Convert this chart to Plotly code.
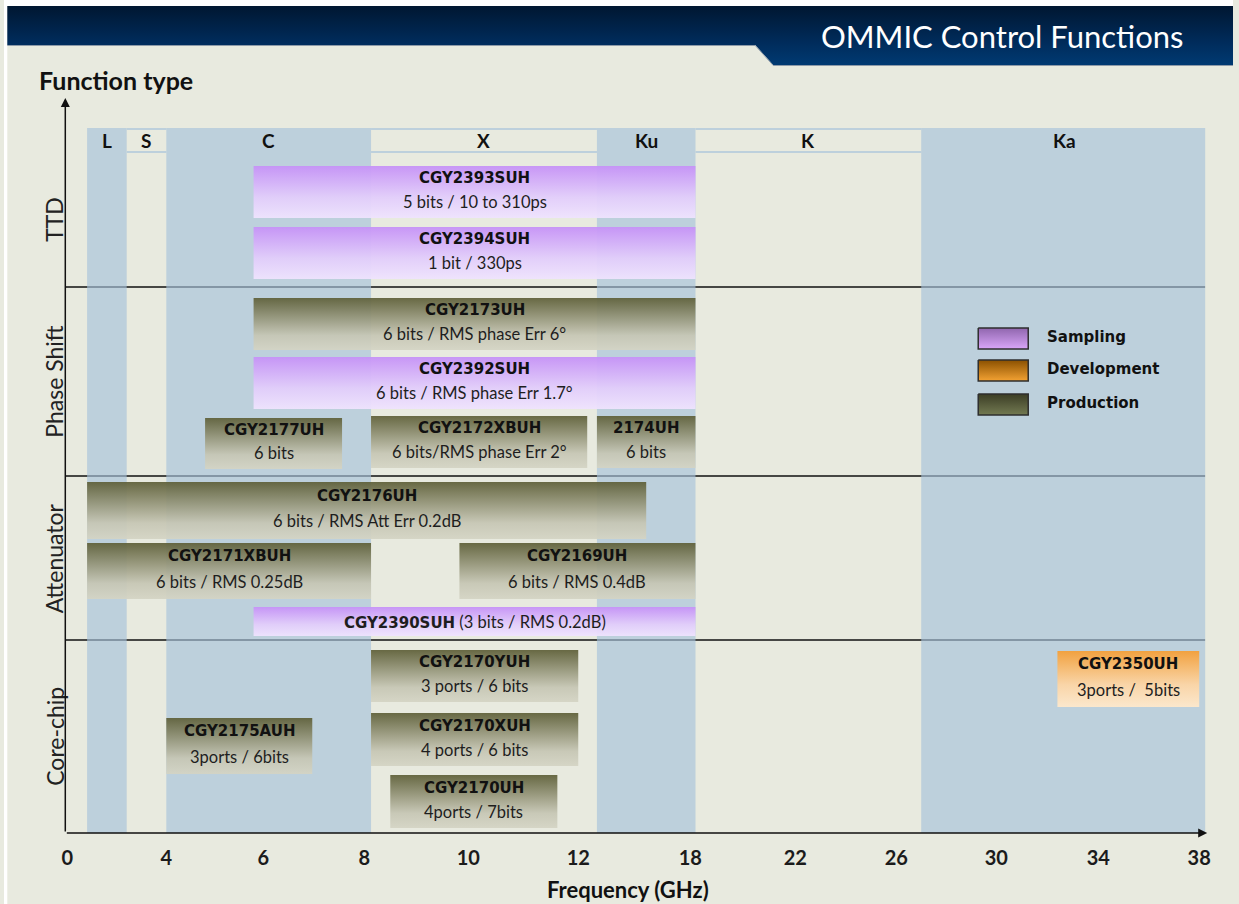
import numpy as np
import plotly.graph_objects as go

W, H = 1239, 904

# ---------------- data ----------------
TICK_GHZ = [0, 4, 6, 8, 10, 12, 18, 22, 26, 30, 34, 38]
TICK_TEXT = [str(t) for t in TICK_GHZ]
# the original frequency axis is not linear: warped position of every tick
TICK_POS = [2, 101, 198, 299, 403, 513, 625, 730, 831, 931, 1033, 1134]

BANDS = ["L", "S", "C", "X", "Ku", "K", "Ka"]
BAND_START = [0.8, 2.4, 4.0, 8.13, 13.0, 18.2, 27.0]
BAND_STOP = [2.4, 4.0, 8.13, 13.0, 18.2, 27.0, 38.3]
BAND_SHADED = [True, False, True, False, True, False, True]

GROUPS = ["TTD", "Phase Shift", "Attenuator", "Core-chip"]
GROUP_TOP = [52, 187, 376, 540]
GROUP_BOTTOM = [187, 376, 540, 733]

PARTS = ["CGY2393SUH", "CGY2394SUH", "CGY2173UH", "CGY2392SUH", "CGY2177UH",
         "CGY2172XBUH", "2174UH", "CGY2176UH", "CGY2171XBUH", "CGY2169UH",
         "CGY2390SUH", "CGY2170YUH", "CGY2170XUH", "CGY2170UH", "CGY2175AUH",
         "CGY2350UH"]
SUBTEXT = ["5 bits / 10 to 310ps", "1 bit / 330ps", "6 bits / RMS phase Err 6°",
           "6 bits / RMS phase Err 1.7°", "6 bits", "6 bits/RMS phase Err 2°",
           "6 bits", "6 bits / RMS Att Err 0.2dB", "6 bits / RMS 0.25dB",
           "6 bits / RMS 0.4dB", "(3 bits / RMS 0.2dB)", "3 ports / 6 bits",
           "4 ports / 6 bits", "4ports / 7bits", "3ports / 6bits", "3ports /  5bits"]
STATUS = ["Sampling", "Sampling", "Production", "Sampling", "Production",
          "Production", "Production", "Production", "Production", "Production",
          "Sampling", "Production", "Production", "Production", "Production",
          "Development"]
F_START = [5.8, 5.8, 5.8, 5.8, 4.8, 8.13, 13.0, 0.8, 0.8, 9.83, 5.8, 8.13, 8.13, 8.5, 4.0, 32.4]
F_STOP = [18.2, 18.2, 18.2, 18.2, 7.56, 12.48, 18.2, 15.64, 8.13, 18.2, 18.2, 12.0, 12.0, 11.62, 6.97, 38.0]
ROW_TOP = [66, 127, 198, 257, 318, 316, 316, 382, 443, 443, 507, 550, 613, 675, 618, 551]
ROW_BOTTOM = [118, 179, 250, 309, 369, 368, 368, 439, 499, 499, 536, 602, 666, 728, 674, 607]

LEGEND = ["Sampling", "Development", "Production"]

# ---------------- styles ----------------
BG = "#e8eadf"
BAND_FILL = "rgba(166,194,218,0.65)"
BAND_LINE = "#bdd0dc"
GRAD = {
    "Sampling": [[0, "rgba(198,146,247,0.95)"], [0.6, "rgba(226,205,251,0.95)"], [1, "rgba(239,227,254,0.95)"]],
    "Production": [[0, "rgba(94,95,56,0.93)"], [0.72, "rgba(198,198,180,0.93)"], [1, "rgba(212,212,196,0.93)"]],
    "Development": [[0, "rgba(243,160,59,0.97)"], [0.6, "rgba(251,213,166,0.97)"], [1, "rgba(253,232,204,0.97)"]],
}
SWATCH = {
    "Sampling": [[0, "#9066ae"], [1, "#d9a6f9"]],
    "Development": [[0, "#8a5000"], [1, "#f3a233"]],
    "Production": [[0, "#3b3d25"], [1, "#737a52"]],
}
SUB_FONT = "Lato"
NAME_FONT = "DejaVu Sans"

# horizontal page placement correction (page is shown slightly compressed)
SX, OX = 0.992, 3.7


def pgx(v):
    return (v - OX) / SX


def fx(g):
    g = np.asarray(g, dtype=float)
    u = np.interp(g, TICK_GHZ, TICK_POS)
    slope = (TICK_POS[-1] - TICK_POS[-2]) / (TICK_GHZ[-1] - TICK_GHZ[-2])
    return np.where(g > TICK_GHZ[-1], TICK_POS[-1] + (g - TICK_GHZ[-1]) * slope, u)


X_LEFT, X_RIGHT, Y_TOP, Y_BOT = 65, 1205, 100, 833
XSPAN = X_RIGHT - X_LEFT
YSPAN = Y_BOT - Y_TOP

fig = go.Figure()
shapes = []
ann = []

# separators between function groups (drawn first: under the bands)
for gb in GROUP_BOTTOM[:-1]:
    shapes.append(dict(type="line", xref="x", yref="y", x0=0, x1=XSPAN, y0=gb, y1=gb,
                       line=dict(color="#111111", width=1.3), layer="below"))

# frequency bands
for name, a, b, sh in zip(BANDS, BAND_START, BAND_STOP, BAND_SHADED):
    xa, xb = float(fx(a)), float(fx(b))
    if sh:
        shapes.append(dict(type="rect", xref="x", yref="y", x0=xa, x1=xb, y0=28, y1=YSPAN,
                           fillcolor=BAND_FILL, line=dict(width=0), layer="below"))
    else:
        for yy in (29, 52):
            shapes.append(dict(type="line", xref="x", yref="y", x0=xa, x1=xb, y0=yy, y1=yy,
                               line=dict(color=BAND_LINE, width=2), layer="below"))
    ann.append(dict(x=(xa + xb) / 2, y=41, xref="x", yref="y", text=name, showarrow=False,
                    font=dict(family="Lato", size=19, color="#111111", weight="bold")))

# product bars
for p, s, st, a, b, t, bt in zip(PARTS, SUBTEXT, STATUS, F_START, F_STOP, ROW_TOP, ROW_BOTTOM):
    xa, xb = float(fx(a)), float(fx(b))
    fig.add_trace(go.Scatter(
        x=[xa, xb, xb, xa, xa], y=[t, t, bt, bt, t], mode="lines", fill="toself",
        line=dict(width=0, color="rgba(0,0,0,0)"),
        fillgradient=dict(type="vertical", colorscale=GRAD[st], start=t, stop=bt),
        hoverinfo="skip", showlegend=False, xaxis="x", yaxis="y"))
    xc = (xa + xb) / 2
    h = bt - t
    if h < 40:
        ann.append(dict(x=xc, y=(t + bt) / 2, xref="x", yref="y", showarrow=False,
                        text=f'<span style="font-family:{NAME_FONT};font-weight:bold;font-size:15px">{p}</span> {s}',
                        font=dict(family=SUB_FONT, size=16.5, color="#1e1e1e")))
    else:
        ann.append(dict(x=xc, y=t + 0.24 * h, xref="x", yref="y", text=p, showarrow=False,
                        font=dict(family=NAME_FONT, size=15, color="#111111", weight="bold")))
        ann.append(dict(x=xc, y=t + 0.69 * h, xref="x", yref="y", text=s, showarrow=False,
                        font=dict(family=SUB_FONT, size=16.5, color="#1e1e1e")))

# group labels (rotated)
for g, a, b in zip(GROUPS, GROUP_TOP, GROUP_BOTTOM):
    ann.append(dict(x=pgx(38) / W, y=(a + b) / 2, xref="paper", yref="y", text=g, showarrow=False,
                    textangle=-90, font=dict(family="Lato", size=23, color="#222222")))

# ---------------- decoration in page coordinates (x2/y2) ----------------
hx = [pgx(7), W, W, pgx(773), pgx(755), pgx(7), pgx(7)]
hy = [6, 6, 65, 65, 45, 45, 6]
fig.add_trace(go.Scatter(x=hx, y=hy, mode="lines", fill="toself", line=dict(width=0),
                         fillgradient=dict(type="vertical", start=6, stop=65,
                                           colorscale=[[0, "#001731"], [0.6, "#002b5a"], [1, "#003a72"]]),
                         hoverinfo="skip", showlegend=False, xaxis="x2", yaxis="y2"))
fig.add_trace(go.Scatter(x=[pgx(7), pgx(755), pgx(773), W], y=[45.5, 45.5, 65.5, 65.5], mode="lines",
                         line=dict(color="#8d9aa8", width=1), hoverinfo="skip",
                         showlegend=False, xaxis="x2", yaxis="y2"))

# legend
LEG_Y = [328, 360, 394]
for lab, y0 in zip(LEGEND, LEG_Y):
    y1 = y0 + 21
    xa, xb = pgx(978), pgx(1028)
    fig.add_trace(go.Scatter(x=[xa, xb, xb, xa, xa], y=[y0, y0, y1, y1, y0], mode="lines",
                             fill="toself", line=dict(color="#2e2e2e", width=1.5),
                             fillgradient=dict(type="vertical", start=y0, stop=y1, colorscale=SWATCH[lab]),
                             hoverinfo="skip", showlegend=False, xaxis="x2", yaxis="y2"))
    ann.append(dict(x=pgx(1045), y=y0 + 9, xref="x2", yref="y2", text=lab, showarrow=False,
                    xanchor="left", font=dict(family="DejaVu Sans", size=15, color="#111111", weight="bold")))

# axes arrows
ann.append(dict(x=pgx(X_LEFT), y=Y_TOP - 2, ax=pgx(X_LEFT), ay=Y_BOT, xref="x2", yref="y2",
                axref="x2", ayref="y2", text="", showarrow=True, arrowhead=2, arrowsize=1.2,
                arrowwidth=1.5, arrowcolor="#111111"))
ann.append(dict(x=pgx(X_RIGHT + 2), y=Y_BOT, ax=pgx(X_LEFT), ay=Y_BOT, xref="x2", yref="y2",
                axref="x2", ayref="y2", text="", showarrow=True, arrowhead=2, arrowsize=1.2,
                arrowwidth=1.5, arrowcolor="#111111"))

# texts
ann.append(dict(x=pgx(1002), y=36, xref="x2", yref="y2", text="OMMIC Control Functions", showarrow=False,
                font=dict(family="Lato", size=31, color="#ffffff")))
ann.append(dict(x=pgx(37), y=80, xref="x2", yref="y2", text="Function type", showarrow=False, xanchor="left",
                font=dict(family="Lato", size=25, color="#111111", weight="bold")))
ann.append(dict(x=pgx(628), y=889, xref="x2", yref="y2", text="Frequency (GHz)", showarrow=False,
                font=dict(family="Lato", size=22, color="#111111", weight="bold")))

# white page edges
shapes.append(dict(type="rect", xref="paper", yref="paper", x0=0, x1=pgx(7) / W, y0=0, y1=1,
                   fillcolor="#ffffff", line=dict(width=0), layer="below"))
shapes.append(dict(type="rect", xref="paper", yref="paper", x0=0, x1=1, y0=1 - 6 / H, y1=1,
                   fillcolor="#ffffff", line=dict(width=0), layer="below"))

fig.update_layout(
    width=W, height=H, margin=dict(l=0, r=0, t=0, b=0),
    paper_bgcolor=BG, plot_bgcolor="rgba(0,0,0,0)", showlegend=False,
    xaxis=dict(domain=[pgx(X_LEFT) / W, pgx(X_RIGHT) / W], range=[0, XSPAN], anchor="y",
               tickvals=list(fx(TICK_GHZ)), ticktext=TICK_TEXT, ticks="", showgrid=False,
               zeroline=False, showline=False, ticklabelstandoff=11,
               tickfont=dict(family="Lato", size=20, color="#1b1b1b", weight="bold"), fixedrange=True),
    yaxis=dict(domain=[(H - Y_BOT) / H, (H - Y_TOP) / H], range=[YSPAN, 0], anchor="x",
               visible=False, fixedrange=True),
    xaxis2=dict(domain=[0, 1], range=[0, W], anchor="y2", visible=False, fixedrange=True),
    yaxis2=dict(domain=[0, 1], range=[H, 0], anchor="x2", visible=False, fixedrange=True),
    shapes=shapes, annotations=ann,
)

fig.write_html(
    "out.html",
    config={"displayModeBar": False},
    post_script=("document.body.style.margin='0';document.body.style.overflow='hidden';"
                 "document.body.style.background='#ffffff';"
                 "document.documentElement.style.background='#ffffff';"),
)
